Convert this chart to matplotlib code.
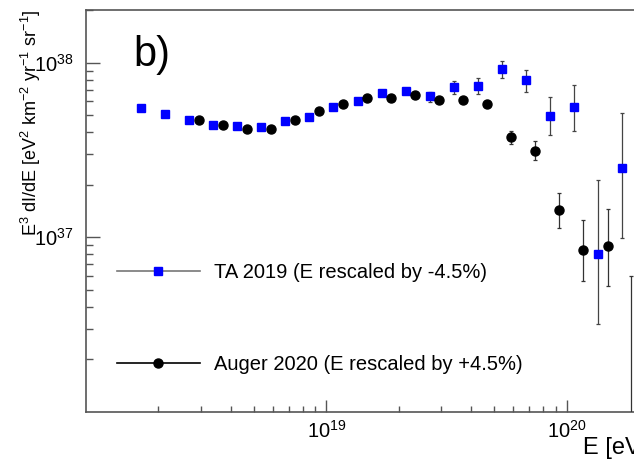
import matplotlib
matplotlib.use("Agg")
import matplotlib.pyplot as plt
import numpy as np
from matplotlib.lines import Line2D
from matplotlib.ticker import LogLocator, NullFormatter, FixedLocator

plt.rcParams['font.family'] = ['Liberation Sans', 'DejaVu Sans']
plt.rcParams['mathtext.fontset'] = 'custom'
plt.rcParams['mathtext.rm'] = 'Liberation Sans'
plt.rcParams['mathtext.it'] = 'Liberation Sans:italic'
plt.rcParams['mathtext.bf'] = 'Liberation Sans:bold'

# TA 2019 (energies rescaled by -4.5%), flux in units of 1e37
ta_E = [1.70e18, 2.14e18, 2.69e18, 3.39e18, 4.27e18, 5.37e18, 6.76e18, 8.51e18,
        1.07e19, 1.35e19, 1.70e19, 2.14e19, 2.69e19, 3.39e19, 4.27e19, 5.37e19,
        6.76e19, 8.51e19, 1.07e20, 1.35e20, 1.70e20]
ta_flux = [5.53, 5.11, 4.72, 4.41, 4.31, 4.27, 4.63, 4.88, 5.56, 6.05, 6.70, 6.88,
           6.40, 7.24, 7.39, 9.25, 7.92, 4.93, 5.57, 0.803, 2.48]
ta_lo = [5.48, 5.07, 4.68, 4.37, 4.27, 4.22, 4.58, 4.82, 5.48, 5.95, 6.56, 6.70,
         5.93, 6.62, 6.62, 8.17, 6.76, 3.85, 4.04, 0.318, 0.986]
ta_hi = [5.58, 5.15, 4.76, 4.45, 4.35, 4.32, 4.68, 4.94, 5.64, 6.15, 6.84, 7.06,
         6.82, 7.82, 8.13, 10.25, 9.08, 6.35, 7.45, 2.13, 5.13]

# Auger 2020 (energies rescaled by +4.5%), flux in units of 1e37
auger_E = [2.94e18, 3.71e18, 4.67e18, 5.88e18, 7.40e18, 9.31e18, 1.17e19, 1.48e19,
           1.86e19, 2.34e19, 2.94e19, 3.71e19, 4.67e19, 5.88e19, 7.40e19, 9.31e19,
           1.17e20, 1.48e20, 1.86e20]
auger_flux = [4.70, 4.42, 4.16, 4.16, 4.71, 5.27, 5.83, 6.31, 6.31, 6.50, 6.07, 6.07,
              5.78, 3.74, 3.12, 1.43, 0.849, 0.895, 0.01]
auger_lo = [4.66, 4.38, 4.12, 4.12, 4.67, 5.22, 5.78, 6.25, 6.24, 6.42, 5.98, 5.96,
            5.55, 3.41, 2.77, 1.13, 0.562, 0.528, 0.001]
auger_hi = [4.74, 4.46, 4.20, 4.20, 4.75, 5.32, 5.88, 6.37, 6.38, 6.58, 6.16, 6.18,
            6.02, 4.06, 3.54, 1.80, 1.25, 1.46, 0.604]

scale = 1e37


def errs(flux, lo, hi):
    f = np.array(flux) * scale
    return f, [f - np.array(lo) * scale, np.array(hi) * scale - f]


fig = plt.figure(figsize=(6.34, 4.61), dpi=100)
ax = fig.add_axes([0.1356, 0.1063, 0.909, 0.872])

y, yerr = errs(ta_flux, ta_lo, ta_hi)
ax.errorbar(ta_E, y, yerr=yerr, fmt='s', color='blue', ms=5.8, mec='blue',
            ecolor='#444444', elinewidth=0.9, capsize=1.5, capthick=0.9, zorder=3)

y, yerr = errs(auger_flux, auger_lo, auger_hi)
ax.errorbar(auger_E, y, yerr=yerr, fmt='o', color='black', ms=6.5,
            ecolor='#333333', elinewidth=0.9, capsize=1.5, capthick=0.9, zorder=3)

ax.set_xscale('log')
ax.set_yscale('log')
ax.set_xlim(1e18, 2.5e20)
ax.set_ylim(1e36, 2e38)

ax.xaxis.set_major_locator(FixedLocator([1e19, 1e20]))
ax.yaxis.set_major_locator(FixedLocator([1e37, 1e38]))
for a in (ax.xaxis, ax.yaxis):
    a.set_minor_locator(LogLocator(base=10, subs=np.arange(2, 10)))
    a.set_minor_formatter(NullFormatter())

ax.tick_params(which='both', direction='in', color='#555555', width=1.0,
               labelsize=14.5, top=False, right=False)
ax.tick_params(axis='y', which='major', length=10, pad=9)
ax.tick_params(axis='y', which='minor', length=5)
ax.tick_params(axis='x', which='major', length=8.6, pad=6)
ax.tick_params(axis='x', which='minor', length=4.3)

for s in ['left', 'bottom', 'top']:
    ax.spines[s].set_color('#555555')
    ax.spines[s].set_linewidth(1.2)
ax.spines['right'].set_visible(False)

fig.text(31 / 634, 1 - 10 / 461,
         r'E$^{3}$ dI/dE [eV$^{2}$ km$^{-2}$ yr$^{-1}$ sr$^{-1}$]',
         rotation=90, ha='center', va='top', fontsize=13)
fig.text(583 / 634, 1 - 448 / 461, 'E [eV]', ha='left', va='center', fontsize=17)

ax.text(0.082, 0.86, 'b)', transform=ax.transAxes, fontsize=30, ha='left', va='baseline')

handles = [
    Line2D([], [], color='#777777', lw=1.2, marker='s', ms=5.8, mfc='blue', mec='blue'),
    Line2D([], [], color='black', lw=1.2, marker='o', ms=6.5, mfc='black', mec='black'),
]
labels = ['TA 2019 (E rescaled by -4.5%)', 'Auger 2020 (E rescaled by +4.5%)']
ax.legend(handles, labels, loc='center left', bbox_to_anchor=(0.0538, 0.232),
          frameon=False, fontsize=14.5, handlelength=4.1, handletextpad=0.7,
          labelspacing=3.65, borderpad=0, borderaxespad=0)

fig.savefig('out.png', dpi=100)
